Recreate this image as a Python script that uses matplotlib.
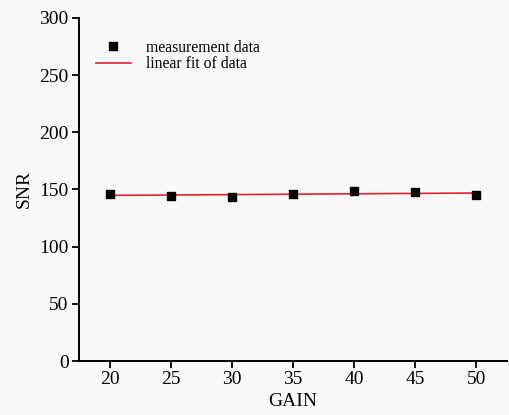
import numpy as np
import matplotlib
matplotlib.use('Agg')
import matplotlib.pyplot as plt

# measured SNR versus gain setting
gain = [20, 25, 30, 35, 40, 45, 50]
snr = [146.0, 144.4, 143.0, 146.0, 148.7, 147.6, 145.2]

plt.rcParams['font.family'] = ['Liberation Serif', 'DejaVu Serif']

fig = plt.figure(figsize=(5.1, 4.15), dpi=100, facecolor='#fafafa')
ax = fig.add_axes([0.155, 0.13, 0.839, 0.827], facecolor='#fafafa')

# linear fit
k, b = np.polyfit(gain, snr, 1)
fit_x = np.array([gain[0], gain[-1]])
ax.plot(fit_x, k * fit_x + b, color='#e8202a', lw=1.2, label='linear fit of data', zorder=2)
ax.plot(gain, snr, 's', color='black', ms=6, label='measurement data', linestyle='none', zorder=3)

ax.set_xlim(17.5, 52.5)
ax.set_ylim(0, 300)
ax.set_xticks(gain)
ax.set_yticks(range(0, 301, 50))
ax.set_xlabel('GAIN', fontsize=14, labelpad=3.5)
ax.set_ylabel('SNR', fontsize=14, labelpad=5)
ax.tick_params(labelsize=14, length=5, width=1.3, direction='out', pad=2.5)
for s in ['top', 'right']:
    ax.spines[s].set_visible(False)
for s in ['left', 'bottom']:
    ax.spines[s].set_linewidth(1.4)

h, l = ax.get_legend_handles_labels()
ax.legend(h[::-1], l[::-1], loc='upper left', bbox_to_anchor=(0.007, 0.978), frameon=False,
          fontsize=11.3, handlelength=2.2, handletextpad=1.0, labelspacing=0.05)

fig.savefig('out.png', dpi=100, facecolor=fig.get_facecolor())
